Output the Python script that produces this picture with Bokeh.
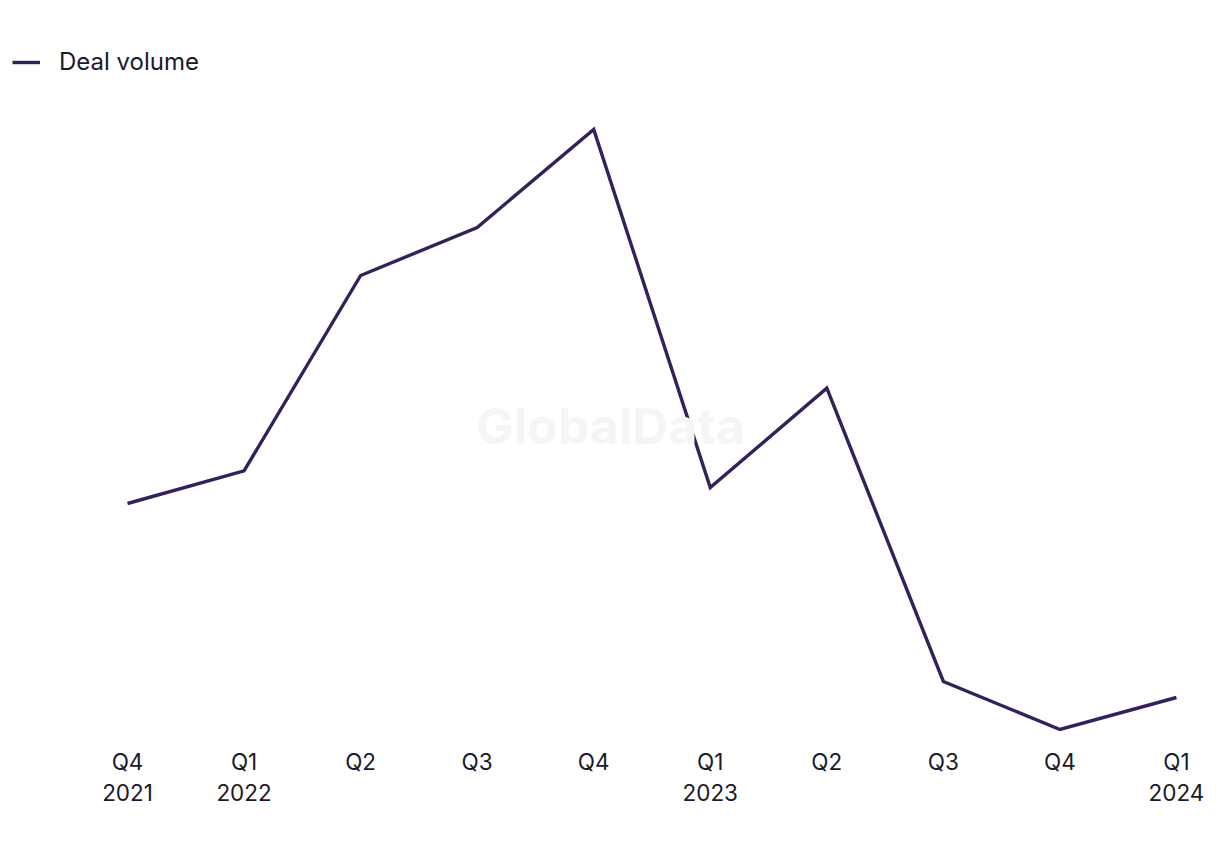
from bokeh.plotting import figure
from bokeh.models import Range1d, Legend, LegendItem, Label, FixedTicker
from bokeh.embed import file_html
from bokeh.resources import INLINE

# Data (relative deal volume; no y axis in original)
quarters = ["Q4\n2021", "Q1\n2022", "Q2", "Q3", "Q4", "Q1\n2023", "Q2", "Q3", "Q4", "Q1\n2024"]
deal_volume = [31.95, 34.4, 49.05, 52.65, 60.0, 33.15, 40.6, 18.6, 15.0, 17.4]

xs = list(range(len(quarters)))
LINE_COLOR = "#34205A"
FONT = "Inter"

p = figure(width=1220, height=850, output_backend="svg", toolbar_location=None,
           x_range=Range1d(-1.09, 9.378), y_range=Range1d(13.8, 69.675),
           min_border_left=0, min_border_right=0, min_border_top=0, min_border_bottom=105)
p.outline_line_color = None
p.grid.visible = False
p.yaxis.visible = False

r = p.line(xs, deal_volume, line_color=LINE_COLOR, line_width=3.4, line_join="miter")

ax = p.xaxis[0]
ax.ticker = FixedTicker(ticks=xs)
ax.major_label_overrides = {i: lab for i, lab in enumerate(quarters)}
ax.axis_line_color = None
ax.major_tick_line_color = None
ax.minor_tick_line_color = None
ax.major_tick_out = 0
ax.major_tick_in = 0
ax.major_label_standoff = 2
ax.major_label_text_font = FONT
ax.major_label_text_font_size = "22.5px"
ax.major_label_text_line_height = 1.15
ax.major_label_text_color = "#1a1a2a"

wm = Label(x=610, y=850 - 105 - 425, x_units="screen", y_units="screen",
           text="GlobalData", text_font=FONT, text_font_style="bold",
           text_font_size="50px", text_color="#f5f5f5",
           text_align="center", text_baseline="middle")
p.add_layout(wm)

legend = Legend(items=[LegendItem(label="Deal volume", renderers=[r])],
                location=(12, 669), orientation="horizontal",
                margin=0, padding=0, glyph_width=28, glyph_height=26,
                label_height=26, label_standoff=19,
                label_text_font=FONT, label_text_font_size="24px",
                label_text_color="#1a1a2a",
                border_line_color=None, background_fill_alpha=0)
p.add_layout(legend, "center")

open("out.html", "w").write(file_html(p, INLINE))
